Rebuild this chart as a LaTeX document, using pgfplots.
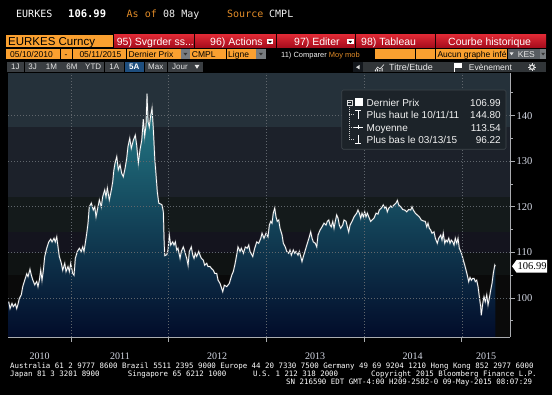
\documentclass[border=0pt]{standalone}
\usepackage{pgfplots}
\pgfplotsset{compat=1.18}
\usepackage{pgfplotstable}
\usepackage{fontspec}
\setmainfont{Liberation Sans}
\newfontfamily\monof{DejaVu Sans Mono}
\newfontfamily\seriff{Liberation Serif}

\definecolor{bborange}{RGB}{250,160,48}
\definecolor{bbtxtorange}{RGB}{226,140,40}
\definecolor{redtop}{RGB}{222,40,52}
\definecolor{redbot}{RGB}{165,12,28}
\definecolor{btngray}{RGB}{58,62,66}
\definecolor{btnblue}{RGB}{30,78,126}
\definecolor{ddgray}{RGB}{120,124,128}
\definecolor{kesgray}{RGB}{88,93,98}
\definecolor{band1}{RGB}{37,49,58}
\definecolor{band2}{RGB}{28,33,42}
\definecolor{band3}{RGB}{20,26,27}
\definecolor{band4}{RGB}{20,20,30}
\definecolor{band5}{RGB}{15,19,19}
\definecolor{band6}{RGB}{10,10,10}
\definecolor{gridc}{RGB}{96,102,108}
\definecolor{legbg}{RGB}{28,35,41}
\definecolor{legborder}{RGB}{62,70,76}
\definecolor{areatop}{RGB}{38,128,140}
\definecolor{areamid}{RGB}{12,70,100}
\definecolor{areabot}{RGB}{2,12,42}
\definecolor{labc}{RGB}{214,218,230}
\definecolor{axc}{RGB}{170,172,176}

\pgfplotstableread{
year value
2010.362 99.2
2010.376 97.7
2010.396 98.8
2010.409 98.1
2010.430 98.7
2010.444 97.7
2010.458 98.7
2010.471 99.9
2010.491 100.7
2010.506 102.5
2010.526 103.9
2010.547 105.3
2010.560 104.7
2010.580 106.3
2010.594 105.0
2010.608 104.0
2010.629 102.9
2010.649 103.6
2010.662 102.5
2010.676 103.9
2010.690 106.1
2010.703 103.9
2010.717 106.1
2010.731 109.1
2010.751 110.9
2010.772 112.3
2010.792 112.9
2010.806 112.3
2010.826 113.1
2010.839 112.3
2010.854 113.4
2010.867 111.2
2010.880 109.1
2010.901 107.6
2010.915 106.1
2010.936 107.6
2010.949 105.8
2010.969 106.9
2010.983 105.8
2010.997 107.6
2011.017 105.4
2011.031 105.0
2011.044 108.7
2011.065 110.2
2011.085 110.9
2011.105 110.2
2011.120 111.2
2011.133 110.2
2011.146 112.0
2011.161 114.2
2011.174 116.4
2011.187 120.0
2011.208 120.8
2011.228 119.3
2011.243 120.0
2011.256 117.8
2011.276 120.0
2011.290 121.5
2011.310 120.0
2011.324 122.2
2011.345 123.7
2011.358 122.2
2011.372 124.1
2011.392 121.5
2011.413 123.7
2011.427 125.5
2011.437 127.8
2011.450 129.5
2011.468 131.0
2011.484 128.1
2011.502 129.2
2011.519 127.3
2011.535 126.6
2011.553 128.4
2011.570 130.6
2011.583 133.2
2011.601 135.0
2011.617 132.8
2011.638 134.6
2011.658 135.7
2011.672 133.5
2011.689 129.6
2011.706 132.5
2011.724 134.6
2011.740 139.2
2011.754 135.5
2011.768 137.9
2011.778 144.8
2011.788 138.7
2011.801 137.5
2011.816 140.1
2011.829 141.6
2011.842 137.2
2011.857 130.6
2011.870 127.0
2011.883 123.3
2011.898 120.8
2011.918 120.6
2011.931 120.4
2011.945 118.9
2011.952 113.1
2011.959 109.3
2011.980 109.5
2011.993 110.5
2012.006 113.8
2012.020 111.6
2012.041 112.3
2012.054 111.6
2012.068 112.3
2012.082 110.5
2012.095 110.9
2012.116 108.7
2012.129 110.2
2012.149 111.2
2012.164 110.2
2012.184 108.7
2012.198 107.2
2012.211 110.2
2012.231 111.2
2012.246 109.4
2012.259 108.7
2012.272 109.8
2012.286 109.1
2012.307 110.2
2012.320 109.4
2012.334 108.7
2012.354 108.3
2012.368 107.2
2012.389 107.6
2012.402 106.9
2012.423 106.9
2012.436 106.5
2012.456 106.1
2012.471 105.4
2012.491 105.4
2012.505 103.9
2012.525 103.2
2012.553 101.4
2012.569 102.8
2012.594 102.5
2012.620 103.2
2012.645 105.0
2012.661 105.8
2012.679 107.5
2012.696 109.5
2012.709 111.2
2012.730 110.2
2012.743 110.9
2012.764 109.8
2012.784 111.2
2012.804 110.9
2012.819 111.6
2012.832 110.2
2012.860 109.1
2012.880 110.9
2012.901 112.3
2012.921 112.0
2012.942 113.1
2012.955 114.2
2012.975 113.1
2012.996 114.2
2013.016 113.4
2013.030 116.0
2013.044 116.8
2013.057 116.4
2013.070 118.6
2013.085 119.7
2013.098 117.8
2013.111 116.8
2013.126 117.1
2013.139 115.3
2013.160 113.8
2013.173 112.0
2013.193 111.2
2013.208 110.2
2013.228 109.8
2013.241 110.5
2013.255 109.4
2013.275 110.5
2013.290 109.8
2013.303 110.2
2013.323 109.4
2013.337 110.2
2013.351 109.1
2013.364 108.0
2013.378 109.1
2013.398 110.5
2013.419 112.0
2013.439 113.4
2013.453 114.5
2013.467 113.1
2013.480 112.3
2013.500 112.0
2013.515 111.2
2013.528 113.8
2013.549 114.9
2013.569 115.6
2013.589 116.4
2013.610 116.0
2013.623 116.8
2013.638 117.1
2013.651 116.0
2013.664 115.6
2013.679 116.8
2013.692 115.3
2013.705 116.8
2013.719 118.2
2013.733 117.5
2013.746 116.0
2013.760 115.3
2013.781 116.0
2013.794 117.1
2013.815 116.8
2013.828 115.6
2013.842 114.5
2013.856 116.0
2013.876 116.8
2013.897 117.8
2013.910 118.2
2013.924 118.6
2013.937 119.3
2013.951 118.6
2013.965 117.5
2013.978 118.6
2013.992 117.8
2014.006 118.9
2014.019 117.8
2014.033 118.6
2014.053 117.5
2014.067 116.8
2014.081 117.1
2014.101 117.5
2014.122 118.6
2014.142 118.4
2014.155 119.3
2014.176 119.7
2014.196 120.4
2014.211 119.7
2014.224 120.0
2014.237 118.9
2014.252 119.7
2014.272 120.2
2014.285 119.9
2014.306 120.4
2014.326 120.8
2014.340 121.4
2014.354 120.4
2014.375 120.0
2014.395 119.4
2014.415 119.3
2014.436 118.9
2014.456 119.4
2014.477 119.3
2014.490 120.0
2014.503 119.3
2014.524 118.6
2014.544 118.2
2014.565 117.8
2014.585 117.1
2014.606 116.9
2014.626 116.8
2014.641 115.6
2014.654 116.4
2014.667 115.3
2014.681 114.9
2014.695 114.2
2014.715 114.5
2014.729 113.1
2014.749 112.0
2014.763 113.1
2014.784 113.8
2014.797 112.7
2014.810 114.2
2014.825 112.0
2014.838 112.7
2014.851 112.3
2014.866 113.1
2014.879 112.0
2014.892 112.7
2014.907 112.3
2014.920 111.6
2014.933 113.1
2014.948 112.0
2014.961 113.1
2014.974 110.9
2014.989 110.2
2015.002 109.4
2015.015 108.3
2015.030 107.2
2015.043 106.1
2015.056 105.0
2015.070 103.6
2015.084 104.5
2015.097 103.9
2015.111 104.3
2015.125 104.3
2015.138 103.6
2015.152 103.9
2015.166 102.5
2015.179 100.3
2015.193 98.1
2015.199 96.22
2015.214 98.8
2015.227 100.3
2015.240 99.2
2015.255 100.7
2015.268 98.5
2015.281 99.9
2015.296 101.8
2015.309 103.2
2015.322 105.4
2015.337 107.2
2015.343 106.99
}\eurkes

\newcommand{\hdr}{\monof\fontsize{10}{12}\selectfont}
\newcommand{\ftr}{\monof\fontsize{7.43}{9}\selectfont}
\newcommand{\btn}{\fontsize{10.5}{12}\selectfont}
\newcommand{\rowc}{\fontsize{8.5}{10}\selectfont}
\newcommand{\rowd}{\fontsize{8}{10}\selectfont}
\newcommand{\legf}{\fontsize{10}{12}\selectfont}

\tikzset{t/.style={inner sep=0pt, anchor=base west}}

\begin{document}
\begin{tikzpicture}
% page background
\fill[black] (0pt,0pt) rectangle (552pt,-395pt);

% ---- header line
\node[t, font=\hdr, text=white] at (16pt,-17.3pt) {EURKES};
\node[t, font=\monof\bfseries\fontsize{10.5}{12}\selectfont, text=white] at (68pt,-17.3pt) {106.99};
\node[t, font=\hdr, text=bbtxtorange] at (126.5pt,-17.3pt) {As of};
\node[t, font=\hdr, text=white!90!gray] at (163pt,-17.3pt) {08 May};
\node[t, font=\hdr, text=bbtxtorange] at (227pt,-17.3pt) {Source};
\node[t, font=\hdr, text=white!90!gray] at (269pt,-17.3pt) {CMPL};

% ---- row 2: security + red buttons
\fill[bborange] (6pt,-35pt) rectangle (113pt,-47.5pt);
\node[t, font=\fontsize{11.5}{12}\selectfont, text=black] at (8pt,-46pt) {EURKES Curncy};
\foreach \a/\b in {114/194,195/276,277/355,356/435,436/546}{
  \shade[top color=redtop, bottom color=redbot] (\a pt,-35pt) rectangle (\b pt,-47.5pt);
}
\node[t, font=\btn, text=white] at (116.7pt,-45.7pt) {95) Svgrder ss...};
\node[t, font=\btn, text=white] at (210pt,-45.7pt) {96) Actions};
\node[t, font=\btn, text=white] at (294pt,-45.7pt) {97) Editer};
\node[t, font=\btn, text=white] at (361pt,-45.7pt) {98) Tableau};
\node[t, font=\btn, text=white] at (448pt,-45.7pt) {Courbe historique};
\foreach \c in {270,350.3}{
  \fill[white] (\c pt-3.3pt,-39.5pt) rectangle (\c pt+3.3pt,-44.5pt);
  \fill[black] (\c pt-1.8pt,-41pt) -- (\c pt+1.8pt,-41pt) -- (\c pt,-43pt) -- cycle;
}

% ---- row 3: dates and fields
\fill[bborange] (6pt,-49.3pt) rectangle (60pt,-59pt);
\fill[bborange] (60.8pt,-49.3pt) rectangle (72.2pt,-59pt);
\fill[bborange] (73pt,-49.3pt) rectangle (126.2pt,-59pt);
\fill[bborange] (127pt,-49.3pt) rectangle (180.8pt,-59pt);
\fill[ddgray] (181.3pt,-49.3pt) rectangle (189.6pt,-59pt);
\fill[bborange] (190.2pt,-49.3pt) rectangle (225.8pt,-59pt);
\fill[bborange] (226.6pt,-49.3pt) rectangle (255.6pt,-59pt);
\fill[ddgray] (256.2pt,-49.3pt) rectangle (265.6pt,-59pt);
\foreach \c in {185.4,260.9}{
  \fill[black!80] (\c pt-2pt,-52.8pt) -- (\c pt+2pt,-52.8pt) -- (\c pt,-55.5pt) -- cycle;
}
\node[t, font=\rowc, text=black] at (10pt,-57.3pt) {05/10/2010};
\node[t, font=\rowc, text=black] at (64.5pt,-57.3pt) {-};
\node[t, font=\rowc, text=black] at (79.3pt,-57.3pt) {05/11/2015};
\node[t, font=\rowc, text=black] at (128.3pt,-57.3pt) {Dernier Prix};
\node[t, font=\rowc, text=black] at (191.7pt,-57.3pt) {CMPL};
\node[t, font=\rowc, text=black] at (228pt,-57.3pt) {Ligne};
\node[t, font=\fontsize{7.5}{9}\selectfont, text=white!90!gray] at (281pt,-57.3pt) {11) Comparer};
\node[t, font=\fontsize{7.5}{9}\selectfont, text=bbtxtorange] at (328.7pt,-57.3pt) {Moy mob};
\fill[bborange] (375.3pt,-49.3pt) rectangle (394.6pt,-59pt);
\fill[bborange] (395.4pt,-49.3pt) rectangle (414.7pt,-59pt);
\fill[bborange] (415.5pt,-49.3pt) rectangle (435.3pt,-59pt);
\fill[bborange] (436pt,-49.3pt) rectangle (507pt,-59pt);
\node[t, font=\rowc, text=black] at (437.3pt,-57.3pt) {Aucun graphe infé};
\fill[kesgray] (508pt,-49.3pt) rectangle (539.5pt,-59pt);
\fill[white!80!gray] (509.6pt,-52.5pt) -- (513.6pt,-52.5pt) -- (511.6pt,-55.3pt) -- cycle;
\node[t, font=\rowc, text=white!80!gray] at (517.7pt,-57.3pt) {KES};
\fill[ddgray] (540.2pt,-49.3pt) rectangle (546pt,-59pt);
\fill[black!80] (541.2pt,-52.8pt) -- (545pt,-52.8pt) -- (543.1pt,-55.5pt) -- cycle;

% ---- row 4: period buttons
\foreach \a/\b in {6.7/24,24.7/40.7,41.3/61.7,62.3/81.7,82.3/104,104.7/124,144.7/166.7,168.3/203.3}{
  \fill[btngray] (\a pt,-62pt) rectangle (\b pt,-72.5pt);
}
\fill[btnblue] (124.7pt,-62pt) rectangle (144pt,-72.5pt);
\foreach \x/\l in {15.3/1J,32.7/3J,51.5/1M,72/6M,93.2/YTD,114.3/1A,155.7/Max}{
  \node[inner sep=0pt, anchor=base, font=\rowd, text=white!80!gray] at (\x pt,-70pt) {\l};
}
\node[inner sep=0pt, anchor=base, font=\rowd\bfseries, text=white] at (134.3pt,-70pt) {5A};
\node[t, font=\rowd, text=white!80!gray] at (172pt,-70pt) {Jour};
\fill[white!85!gray] (194.5pt,-64.8pt) -- (199.5pt,-64.8pt) -- (197pt,-68.8pt) -- cycle;
\fill[btngray!120] (353.3pt,-62pt) rectangle (362.8pt,-72.5pt);
\fill[white!70!gray] (356pt,-67.2pt) -- (359.5pt,-65pt) -- (359.5pt,-69.4pt) -- cycle;
\fill[btngray!85!black] (363.3pt,-62pt) rectangle (442.6pt,-72.5pt);
\fill[btngray!85!black] (443.3pt,-62pt) rectangle (512.6pt,-72.5pt);
\fill[btngray!85!black] (513.3pt,-62pt) rectangle (546pt,-72.5pt);
\draw[white!85!gray, line width=0.6pt] (375pt,-71pt) -- (377.5pt,-67pt) -- (380pt,-69pt) -- (384pt,-64.5pt);
\fill[white!85!gray] (375pt,-71.3pt) rectangle (376pt,-70pt) (377.2pt,-71.3pt) rectangle (378.2pt,-69pt) (379.4pt,-71.3pt) rectangle (380.4pt,-70pt) (381.6pt,-71.3pt) rectangle (382.6pt,-68pt);
\node[t, font=\fontsize{9}{10}\selectfont, text=white!85!gray] at (389pt,-70.3pt) {Titre/Etude};
\draw[white, line width=0.6pt] (454.5pt,-72pt) -- (454.5pt,-63.5pt);
\fill[white] (454.8pt,-63.5pt) rectangle (462pt,-68.2pt);
\node[t, font=\fontsize{8.5}{10}\selectfont, text=white!85!gray] at (468.7pt,-70.3pt) {Evènement};
\draw[white!80!gray, line width=1.1pt] (532pt,-67.2pt) circle (2.2pt);
\foreach \ang in {0,45,...,315}{
  \draw[white!80!gray, line width=0.9pt] ([shift={(\ang:2.4pt)}]532pt,-67.2pt) -- ([shift={(\ang:3.7pt)}]532pt,-67.2pt);
}

% ---- plot area bands
\fill[band1] (8pt,-73pt) rectangle (510pt,-126.7pt);
\fill[band2] (8pt,-126.7pt) rectangle (510pt,-196.7pt);
\fill[band3] (8pt,-196.7pt) rectangle (510pt,-231.7pt);
\fill[band4] (8pt,-231.7pt) rectangle (510pt,-253.3pt);
\fill[band5] (8pt,-253.3pt) rectangle (510pt,-275pt);
\fill[band6] (8pt,-275pt) rectangle (510pt,-337pt);

\begin{axis}[
  at={(8pt,-337pt)}, anchor=south west,
  scale only axis, width=502pt, height=264pt,
  xmin=2010.355, xmax=2015.493, ymin=91.45, ymax=149.34,
  axis x line*=bottom, axis y line*=right,
  xtick={2011,2012,2013,2014,2015}, xticklabels={},
  ytick={100,110,120,130,140},
  minor ytick={95,105,115,125,135,145},
  tick align=outside,
  major tick length=5pt, minor tick length=3pt,
  grid=major,
  major grid style={draw=gridc, line width=0.6pt, dash pattern=on 0.8pt off 2.2pt},
  axis line style={draw=axc, line width=0.9pt},
  tick style={draw=axc, line width=0.8pt},
  yticklabel style={font=\seriff\fontsize{10.5}{12}\selectfont, text=labc, inner sep=1.5pt},
  /pgf/number format/assume math mode=true,
  axis on top,
  clip=true,
]
\addplot[draw=none, top color=areatop, middle color=areamid, bottom color=areabot]
  table[x=year, y=value]{\eurkes}
  -- (axis cs:2015.343,91.45) -- (axis cs:2010.362,91.45) -- cycle;
\addplot[draw=gray!70, line width=1.6pt, opacity=0.45] table[x=year, y=value]{\eurkes};
\addplot[draw=white, line width=0.75pt] table[x=year, y=value]{\eurkes};
\end{axis}

% ---- last price tag
\fill[white] (512pt,-266.2pt) -- (516.5pt,-260pt) -- (547pt,-260pt) -- (547pt,-272.6pt) -- (516.5pt,-272.6pt) -- cycle;
\node[t, font=\seriff\fontsize{10.5}{12}\selectfont, text=black] at (517.5pt,-270pt) {106.99};

% ---- legend box
\draw[fill=legbg, draw=legborder, line width=0.6pt, rounded corners=1.5pt] (341.7pt,-90pt) rectangle (506pt,-149.3pt);
\draw[white!75!gray, line width=0.5pt] (346.8pt,-100pt) rectangle (352pt,-105.2pt);
\draw[white!75!gray, line width=0.5pt] (348pt,-102.6pt) -- (350.8pt,-102.6pt);
\draw[white!60!gray, line width=0.5pt, dash pattern=on 0.8pt off 1.2pt] (349.4pt,-105.2pt) -- (349.4pt,-139.3pt);
\foreach \yy in {114.7,127,139.3}{
  \draw[white!60!gray, line width=0.5pt, dash pattern=on 0.8pt off 1.2pt] (349.4pt,-\yy pt) -- (353.5pt,-\yy pt);
}
\fill[white] (355pt,-98.3pt) rectangle (362.5pt,-106.5pt);
\draw[white, line width=0.7pt] (355.3pt,-110.6pt) -- (361.3pt,-110.6pt) (358.3pt,-110.6pt) -- (358.3pt,-119pt);
\draw[white, line width=0.7pt] (353.5pt,-127pt) -- (362.5pt,-127pt) (358pt,-125.4pt) -- (358pt,-128.6pt);
\draw[white, line width=0.7pt] (358.3pt,-135pt) -- (358.3pt,-143.4pt) (355.3pt,-143.4pt) -- (361.3pt,-143.4pt);
\node[t, font=\legf, text=white!90!gray] at (366.5pt,-106.7pt) {Dernier Prix};
\node[t, font=\legf, text=white!90!gray] at (366.5pt,-118.9pt) {Plus haut le 10/11/11};
\node[t, font=\legf, text=white!90!gray] at (366.5pt,-131.1pt) {Moyenne};
\node[t, font=\legf, text=white!90!gray] at (366.5pt,-143.3pt) {Plus bas le 03/13/15};
\node[inner sep=0pt, anchor=base east, font=\legf, text=white!90!gray] at (501pt,-106.7pt) {106.99};
\node[inner sep=0pt, anchor=base east, font=\legf, text=white!90!gray] at (501pt,-118.9pt) {144.80};
\node[inner sep=0pt, anchor=base east, font=\legf, text=white!90!gray] at (501pt,-131.1pt) {113.54};
\node[inner sep=0pt, anchor=base east, font=\legf, text=white!90!gray] at (501pt,-143.3pt) {96.22};

% ---- year labels
\foreach \x/\l in {39.7/2010,120/2011,217/2012,315/2013,412.7/2014,486/2015}{
  \node[inner sep=0pt, anchor=base, font=\seriff\fontsize{10}{12}\selectfont, text=labc] at (\x pt,-360pt) {\l};
}

% ---- footer
\node[t, font=\ftr, text=white] at (10pt,-368.3pt) {Australia 61 2 9777 8600 Brazil 5511 2395 9000 Europe 44 20 7330 7500 Germany 49 69 9204 1210 Hong Kong 852 2977 6000};
\node[t, font=\ftr, text=white] at (10pt,-376.7pt) {Japan 81 3 3201 8900};
\node[t, font=\ftr, text=white] at (127.7pt,-376.7pt) {Singapore 65 6212 1000};
\node[t, font=\ftr, text=white] at (253pt,-376.7pt) {U.S. 1 212 318 2000};
\node[t, font=\ftr, text=white] at (371pt,-376.7pt) {Copyright 2015 Bloomberg Finance L.P.};
\node[t, font=\ftr, text=white] at (286pt,-384.3pt) {SN 216590 EDT  GMT-4:00 H209-2582-0 09-May-2015 08:07:29};
\end{tikzpicture}
\end{document}
